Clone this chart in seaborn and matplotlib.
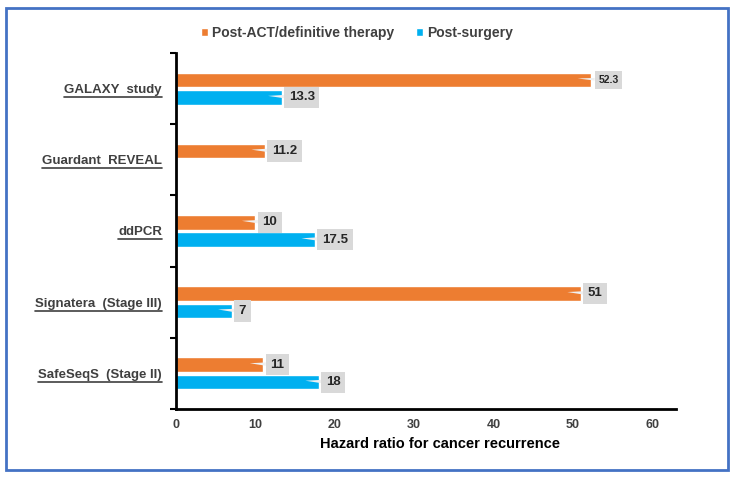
import numpy as np
import pandas as pd
import matplotlib
matplotlib.use("Agg")
import matplotlib.pyplot as plt
from matplotlib.patches import Rectangle
from matplotlib.lines import Line2D
import seaborn as sns

studies = ["GALAXY  study", "Guardant  REVEAL", "ddPCR", "Signatera  (Stage III)", "SafeSeqS  (Stage II)"]
post_act = [52.3, 11.2, 10, 51, 11]
post_surgery = [13.3, np.nan, 17.5, 7, 18]
series = ["Post-ACT/definitive therapy", "Post-surgery"]
xticks = [0, 10, 20, 30, 40, 50, 60]
xlabel = "Hazard ratio for cancer recurrence"

df = pd.DataFrame({
    "study": studies * 2,
    "series": [series[0]] * len(studies) + [series[1]] * len(studies),
    "value": post_act + post_surgery,
})

sns.set_theme(style="white")
plt.rcParams["font.family"] = ["Liberation Sans", "DejaVu Sans"]

fig = plt.figure(figsize=(7.33, 4.78), dpi=100)
ax = fig.add_axes([176 / 733, 1 - 409 / 478, 500 / 733, 356 / 478])

palette = {series[0]: "#ED7D31", series[1]: "#00B0F0"}
sns.barplot(data=df, y="study", x="value", hue="series", hue_order=series,
            order=studies, orient="h", palette=palette, width=0.49, gap=0.16,
            saturation=1, ax=ax, legend=True, errorbar=None)

ax.set_xlim(0, 63)
ax.set_ylim(4.5, -0.5)
ax.set_xticks(xticks)
ax.set_xticklabels([str(t) for t in xticks], fontsize=9, fontweight="bold", color="#404040")
ax.tick_params(axis="x", length=0, pad=7)
ax.set_xlabel(xlabel, fontsize=10.5, fontweight="bold", color="black", labelpad=3)
ax.xaxis.set_label_coords(0.527, -0.078)
ax.set_ylabel("")
ax.set_yticks(range(len(studies)))
ax.set_yticklabels(studies, fontsize=9.5, fontweight="bold", color="#404040")
ax.tick_params(axis="y", which="major", length=0, pad=10)
ax.set_yticks(np.arange(-0.5, len(studies), 1.0), minor=True)
ax.tick_params(axis="y", which="minor", length=4, width=1.5, color="black", left=True)

for s in ["top", "right"]:
    ax.spines[s].set_visible(False)
for s in ["left", "bottom"]:
    ax.spines[s].set_color("black")
    ax.spines[s].set_linewidth(2)

# data labels
for ci, cont in enumerate(ax.containers):
    for p in cont.patches:
        w = p.get_width()
        if not np.isfinite(w) or w <= 0:
            continue
        yc = p.get_y() + p.get_height() / 2
        txt = f"{w:g}"
        fs = 7.5 if txt == "52.3" else 9.5
        ax.annotate(txt, xy=(w - 1.7, yc - 0.02), xytext=(w + 0.9, yc),
                    textcoords="data", ha="left", va="center",
                    fontsize=fs, fontweight="bold", color="#262626",
                    bbox=dict(boxstyle="square,pad=0.35", fc="#D9D9D9", ec="none"),
                    arrowprops=dict(arrowstyle="wedge,tail_width=0.25,shrink_factor=0.5",
                                    fc="#F0F0F0", ec="none", shrinkA=0, shrinkB=0),
                    annotation_clip=False)

# legend
leg = ax.legend(loc="center", bbox_to_anchor=(0.362, 1.056), ncol=2, frameon=False,
                fontsize=10, handlelength=0.5, handleheight=0.5, handletextpad=0.3,
                columnspacing=1.6)
for t in leg.get_texts():
    t.set_color("#404040")
    t.set_fontweight("bold")

# outer frame
fig.patches.append(Rectangle((6 / 733, 8 / 478), 722 / 733, 462 / 478, transform=fig.transFigure,
                             fill=False, ec="#4472C4", lw=2))

# underline y tick labels
fig.canvas.draw()
r = fig.canvas.get_renderer()
for lab in ax.get_yticklabels():
    bb = lab.get_window_extent(renderer=r)
    y0 = bb.y0 - 1
    fig.add_artist(Line2D([bb.x0 / fig.bbox.width, bb.x1 / fig.bbox.width],
                          [y0 / fig.bbox.height, y0 / fig.bbox.height],
                          transform=fig.transFigure, color="#404040", lw=1.2))

fig.savefig("out.png", dpi=100)
